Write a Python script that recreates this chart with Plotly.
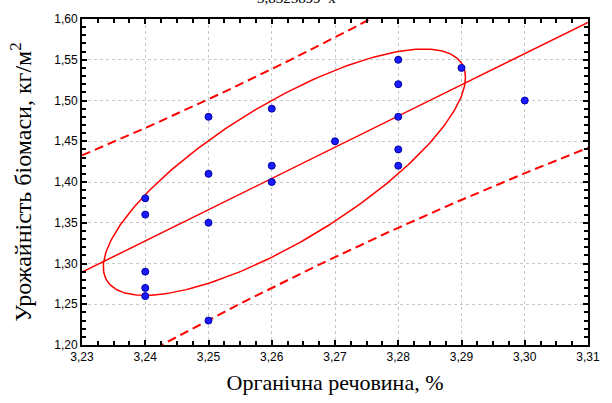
import numpy as np
import plotly.graph_objects as go

# ---- data ----
organic = [3.24, 3.24, 3.24, 3.24, 3.24,
           3.25, 3.25, 3.25, 3.25,
           3.26, 3.26, 3.26,
           3.27,
           3.28, 3.28, 3.28, 3.28, 3.28,
           3.29,
           3.30]
biomass = [1.38, 1.36, 1.29, 1.27, 1.26,
           1.48, 1.41, 1.35, 1.23,
           1.49, 1.42, 1.40,
           1.45,
           1.55, 1.52, 1.48, 1.44, 1.42,
           1.54,
           1.50]
x_ticks = [3.23, 3.24, 3.25, 3.26, 3.27, 3.28, 3.29, 3.30, 3.31]
y_ticks = [1.20, 1.25, 1.30, 1.35, 1.40, 1.45, 1.50, 1.55, 1.60]
equation_text = "3,8325899*x"
T_975_DF18 = 2.100922   # Student t quantile, 95 % two-sided, 18 df
ELLIPSE_KX = 1.50       # ellipse scale along x (in standard deviations)
ELLIPSE_KY = 1.59       # ellipse scale along y (in standard deviations)

x = np.array(organic)
y = np.array(biomass)
n = len(x)
xm, ym = x.mean(), y.mean()
sxx = ((x - xm) ** 2).sum()
syy = ((y - ym) ** 2).sum()
sxy = ((x - xm) * (y - ym)).sum()
b = sxy / sxx
a = ym - b * xm
s = np.sqrt((syy - sxy ** 2 / sxx) / (n - 2))

xl = np.linspace(x_ticks[0], x_ticks[-1], 200)
yl = a + b * xl
half = T_975_DF18 * s * np.sqrt(1 + 1 / n + (xl - xm) ** 2 / sxx)

sx = np.sqrt(sxx / (n - 1))
sy = np.sqrt(syy / (n - 1))
r = sxy / np.sqrt(sxx * syy)
t = np.linspace(0, 2 * np.pi, 300)
ex = xm + ELLIPSE_KX * sx * np.cos(t)
ey = ym + ELLIPSE_KY * sy * (r * np.cos(t) + np.sqrt(1 - r ** 2) * np.sin(t))

red = "#ff0000"
fig = go.Figure()
fig.add_trace(go.Scatter(x=xl, y=yl + half, mode="lines",
                         line=dict(color=red, width=2, dash="9px,5px")))
fig.add_trace(go.Scatter(x=xl, y=yl - half, mode="lines",
                         line=dict(color=red, width=2, dash="9px,5px")))
fig.add_trace(go.Scatter(x=xl, y=yl, mode="lines",
                         line=dict(color=red, width=1.5)))
fig.add_trace(go.Scatter(x=ex, y=ey, mode="lines",
                         line=dict(color=red, width=1.5)))
fig.add_trace(go.Scatter(x=x, y=y, mode="markers",
                         marker=dict(color="#1a1aff", size=7,
                                     line=dict(color="#0000a0", width=1))))

axis_common = dict(
    showline=True, linecolor="black", linewidth=2, mirror="ticks",
    ticks="inside", ticklen=5, tickwidth=1.5, tickcolor="black",
    showgrid=True, gridcolor="#c8c8c8", griddash="dot", gridwidth=1,
    zeroline=False, tickformat=".2f",
    tickfont=dict(family="Liberation Sans, Arial", size=12, color="black"),
)
fig.update_xaxes(range=[x_ticks[0], x_ticks[-1]], tickvals=x_ticks,
                 minor=dict(dtick=0.0025, ticks="inside", ticklen=4,
                            tickcolor="black", showgrid=False),
                 title=dict(text="Органічна речовина, %", standoff=11,
                            font=dict(family="Liberation Serif, Times New Roman",
                                      size=22, color="black")),
                 **axis_common)
fig.update_yaxes(range=[y_ticks[0], y_ticks[-1]], tickvals=y_ticks,
                 minor=dict(dtick=0.01, ticks="inside", ticklen=4,
                            tickcolor="black", showgrid=False),
                 title=dict(text="Урожайність біомаси, кг/м<sup>2</sup>", standoff=16,
                            font=dict(family="Liberation Serif, Times New Roman",
                                      size=24, color="black")),
                 **axis_common)

fig.add_annotation(text=equation_text, xref="paper", yref="paper",
                   x=(301 - 82) / 517, y=1 + (18 - 7) / 328,
                   xanchor="center", yanchor="bottom", showarrow=False,
                   font=dict(family="Liberation Serif, Times New Roman", size=15,
                             color="black"))

fig.update_layout(
    width=612, height=403,
    margin=dict(l=82, r=13, t=18, b=57),
    paper_bgcolor="white", plot_bgcolor="white",
    showlegend=False, separators=", ",
)
fig.write_html("out.html")
